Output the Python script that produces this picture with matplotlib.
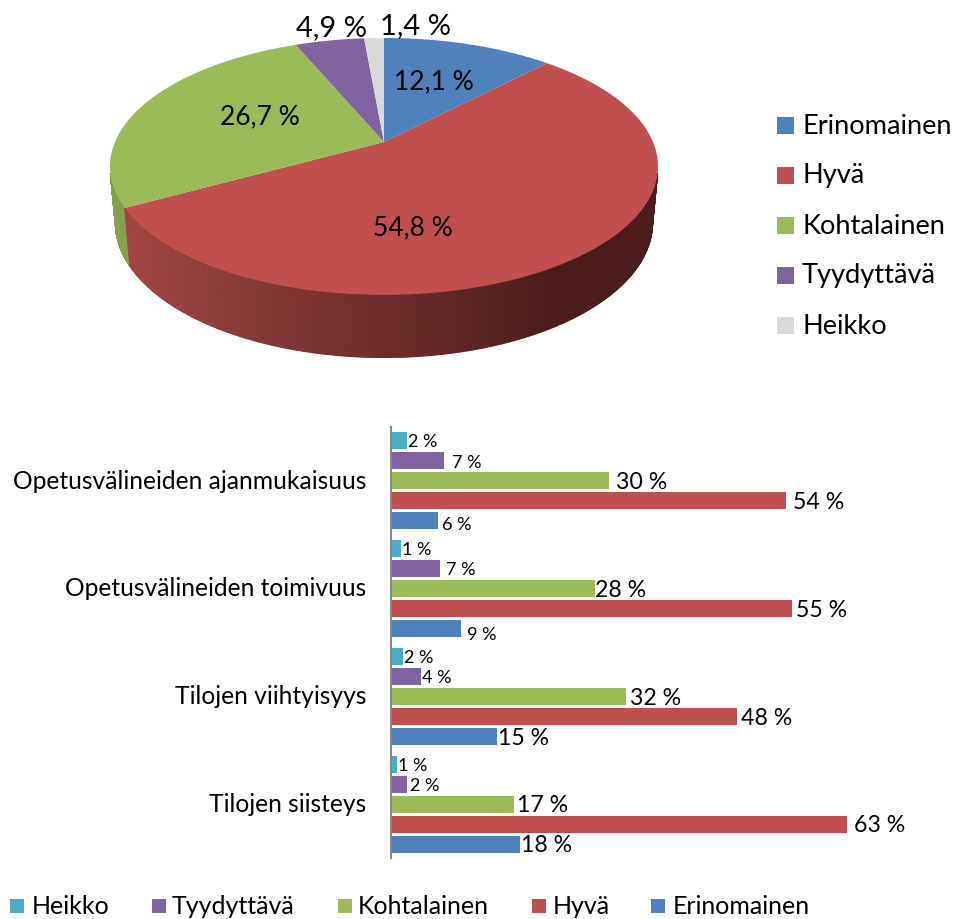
#!/usr/bin/env python
# coding: utf-8

import numpy as np
import matplotlib
matplotlib.use("Agg")
import matplotlib.pyplot as plt
from matplotlib.collections import PolyCollection
from matplotlib.patches import Rectangle

plt.rcParams['font.family'] = ['Lato', 'DejaVu Sans']

# pie data
pie_names = ["Erinomainen", "Hyvä", "Kohtalainen", "Tyydyttävä", "Heikko"]
pie_values = [12.1, 54.8, 26.7, 4.9, 1.4]
pie_labels = ["12,1 %", "54,8 %", "26,7 %", "4,9 %", "1,4 %"]

# bar data, top group first, bars in order Heikko .. Erinomainen
categories = ["Opetusvälineiden ajanmukaisuus", "Opetusvälineiden toimivuus",
              "Tilojen viihtyisyys", "Tilojen siisteys"]
heikko = [2.2, 1.4, 1.7, 0.8]
tyydyttava = [7.3, 6.7, 4.1, 2.2]
kohtalainen = [30.0, 28.0, 32.3, 16.9]
hyva = [54.3, 55.1, 47.6, 62.7]
erinomainen = [6.5, 9.6, 14.6, 17.7]

heikko_labels = ["2 %", "1 %", "2 %", "1 %"]
tyydyttava_labels = ["7 %", "7 %", "4 %", "2 %"]
kohtalainen_labels = ["30 %", "28 %", "32 %", "17 %"]
hyva_labels = ["54 %", "55 %", "48 %", "63 %"]
erinomainen_labels = ["6 %", "9 %", "15 %", "18 %"]

bar_names = ["Heikko", "Tyydyttävä", "Kohtalainen", "Hyvä", "Erinomainen"]
bar_series = [heikko, tyydyttava, kohtalainen, hyva, erinomainen]
bar_texts = [heikko_labels, tyydyttava_labels, kohtalainen_labels, hyva_labels, erinomainen_labels]

BLUE, RED, GREEN, PURPLE, GREY, TEAL = "#4F81BD", "#C0504D", "#9BBB59", "#8064A2", "#D9D9D9", "#4BACC6"
pie_colors = [BLUE, RED, GREEN, PURPLE, GREY]
bar_colors = [TEAL, PURPLE, GREEN, RED, BLUE]

W, H = 955, 919
fig = plt.figure(figsize=(W / 100, H / 100), dpi=100)

# whole figure in pixels, used for the tilted pie and the legends
bg = fig.add_axes([0, 0, 1, 1])
bg.set_xlim(0, W)
bg.set_ylim(H, 0)
bg.axis("off")

CX, CY = 384, 142
A, B, K = 269, 123.8, 0.19


def project(theta):
    # circle seen in perspective, theta clockwise from the top
    u, v = np.sin(theta), np.cos(theta)
    w = 1 + K * v
    return A * u / w, B * v / w


def wall_color(x):
    t = np.clip((x - 126) / (560 - 126), 0, 1)
    return tuple(np.array((0.63, 0.27, 0.26)) * (1 - t) + np.array((0.29, 0.11, 0.11)) * t)


edges = 2 * np.pi * np.cumsum([0] + pie_values) / sum(pie_values)

# side wall, only the front part of the rim shows
SX, SY, DY = 0.98, 1.05, -55
for i in [2, 1]:
    th = np.linspace(max(edges[i], np.radians(104)), min(edges[i + 1], np.radians(256)), 300)
    xs, ys = project(th)
    quads = []
    cols = []
    for j in range(len(th) - 1):
        quads.append([(CX + xs[j], CY - ys[j]), (CX + xs[j + 1], CY - ys[j + 1]),
                      (CX + xs[j + 1] * SX, CY - ys[j + 1] * SY - DY), (CX + xs[j] * SX, CY - ys[j] * SY - DY)])
        cols.append(wall_color(CX + xs[j]) if i == 1 else (0.52, 0.63, 0.30))
    bg.add_collection(PolyCollection(quads, facecolors=cols, edgecolors=cols, linewidths=0.8))

# top face
for i, c in enumerate(pie_colors):
    th = np.linspace(edges[i], edges[i + 1], 200)
    xs, ys = project(th)
    bg.fill(np.r_[CX, CX + xs], np.r_[CY, CY - ys], color=c, lw=0)

pie_label_pos = [(434, 82), (413, 228), (260, 117), (331, 28), (415, 26)]
pie_label_size = [19, 19, 19, 21, 21]
for lab, (x, y), fs in zip(pie_labels, pie_label_pos, pie_label_size):
    bg.text(x, y, lab, fontsize=fs, ha="center", va="center", color="black")

# right hand legend
for i, (name, c) in enumerate(zip(pie_names, pie_colors)):
    y = 125 + i * 50
    bg.add_patch(Rectangle((777, y - 8), 17, 17, color=c, lw=0))
    bg.text(802, y + 1, name, fontsize=19.6, ha="left", va="center", color="black")

# bottom legend
sq_x = [10, 152, 338, 532, 651]
txt_x = [32, 172, 358, 553, 673]
for name, c, sx, tx in zip(bar_names, bar_colors, sq_x, txt_x):
    bg.add_patch(Rectangle((sx, 899), 14, 14, color=c, lw=0))
    bg.text(tx, 907, name, fontsize=18, ha="left", va="center", color="black")

# bars
ax = fig.add_axes([391 / W, 1 - 858 / H, 500 / W, 431 / H])
ax.set_xlim(0, 500 / 7.27)
ax.set_ylim(4, 0)
pitch = 0.186
bar_h = 0.158
label_size = [[13, 13, 16.7, 16.7, 13], [13, 13, 16.7, 16.7, 13],
              [13, 13, 16.7, 16.7, 16.7], [13, 13, 16.7, 16.7, 16.7]]
label_off = [[1, 8, 7, 7, 4], [1, 6, 0, 4, 6], [1, 1, 4, 4, 1], [1, 3, 3, 7, 1]]
label_dy = [[0, 0, 0, 0, 2], [0, 0, 0, 0, 5], [0, 0, 0, 0, 0], [0, 0, 0, 0, 0]]
for k, (name, vals, c) in enumerate(zip(bar_names, bar_series, bar_colors)):
    ys = np.arange(4) + 0.5 + (k - 2) * pitch
    ax.barh(ys, vals, height=bar_h, color=c, lw=0)
    for g in range(4):
        ax.annotate(bar_texts[k][g], (vals[g], ys[g]),
                    xytext=(label_off[g][k] * 0.72, -1.2 - label_dy[g][k] * 0.72), textcoords="offset points",
                    fontsize=label_size[g][k], va="center", ha="left", color="black")

ax.set_yticks(np.arange(4) + 0.503)
ax.set_yticklabels(categories, fontsize=17.7, va="center")
ax.set_xticks([])
ax.tick_params(axis="y", length=0, pad=18)
for s in ["top", "right", "bottom"]:
    ax.spines[s].set_visible(False)
ax.spines["left"].set_color("#868686")
ax.spines["left"].set_linewidth(1.5)
ax.patch.set_alpha(0)

fig.savefig("out.png", dpi=100)
